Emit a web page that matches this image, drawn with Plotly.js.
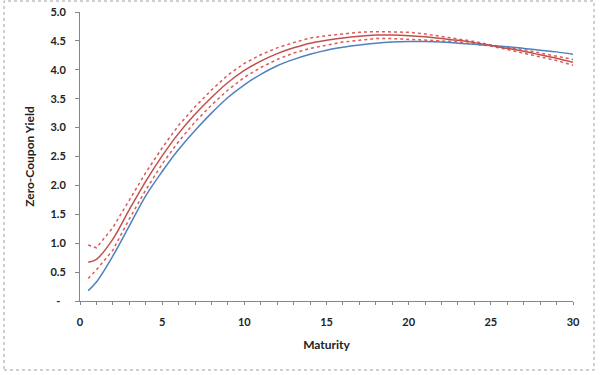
<!DOCTYPE html>
<html>
<head>
<meta charset="utf-8">
<script src="https://cdn.plot.ly/plotly-3.0.1.min.js"></script>
<style>html,body{margin:0;padding:0;background:#fff}#chart{width:600px;height:375px}</style>
</head>
<body>
<div id="chart"></div>
<script>
// Maturity (years)
const maturity = [0.5, 1, 2, 3, 4, 5, 6, 7, 8, 9, 10, 11, 12, 13, 14, 15, 16, 17, 18, 19, 20, 21, 22, 23, 24, 25, 26, 27, 28, 29, 30];
// Blue curve
const blueYield = [0.18, 0.33, 0.78, 1.30, 1.82, 2.24, 2.62, 2.95, 3.25, 3.52, 3.74, 3.92, 4.07, 4.18, 4.27, 4.34, 4.39, 4.43, 4.46, 4.48, 4.49, 4.49, 4.48, 4.46, 4.44, 4.42, 4.40, 4.37, 4.34, 4.31, 4.27];
// Red fitted curve
const redYield = [0.67, 0.72, 1.07, 1.58, 2.07, 2.51, 2.90, 3.23, 3.52, 3.78, 3.99, 4.15, 4.28, 4.38, 4.46, 4.51, 4.55, 4.58, 4.60, 4.60, 4.59, 4.57, 4.54, 4.51, 4.47, 4.42, 4.37, 4.32, 4.26, 4.20, 4.13];
// Red dashed bands
const redUpper = [0.97, 0.92, 1.27, 1.74, 2.22, 2.65, 3.04, 3.36, 3.65, 3.91, 4.11, 4.26, 4.38, 4.47, 4.55, 4.59, 4.62, 4.65, 4.66, 4.66, 4.65, 4.62, 4.58, 4.54, 4.49, 4.43, 4.39, 4.35, 4.29, 4.24, 4.18];
const redLower = [0.39, 0.54, 0.88, 1.42, 1.92, 2.37, 2.76, 3.10, 3.39, 3.65, 3.87, 4.04, 4.18, 4.29, 4.37, 4.43, 4.48, 4.51, 4.54, 4.54, 4.53, 4.52, 4.50, 4.48, 4.45, 4.41, 4.35, 4.29, 4.23, 4.16, 4.08];
// Tick labels
const yTickVals = [0, 0.5, 1, 1.5, 2, 2.5, 3, 3.5, 4, 4.5, 5];
const yTickText = ['-\u00a0\u00a0', '0.5', '1.0', '1.5', '2.0', '2.5', '3.0', '3.5', '4.0', '4.5', '5.0'];
const xTickVals = [0, 5, 10, 15, 20, 25, 30];

const fontFam = 'Lato, "Open Sans", sans-serif';
const traces = [
  {x: maturity, y: redUpper, mode: 'lines', line: {color: '#dc5a58', width: 1.5, dash: '3px,3px'}, hoverinfo: 'skip'},
  {x: maturity, y: redLower, mode: 'lines', line: {color: '#dc5a58', width: 1.5, dash: '3px,3px'}, hoverinfo: 'skip'},
  {x: maturity, y: blueYield, mode: 'lines', line: {color: '#4f81bd', width: 1.5, shape: 'spline'}},
  {x: maturity, y: redYield, mode: 'lines', line: {color: '#c0504d', width: 1.5, shape: 'spline'}}
];
const layout = {
  width: 600, height: 375,
  margin: {l: 80, r: 27, t: 12, b: 74},
  paper_bgcolor: '#fff', plot_bgcolor: '#fff',
  showlegend: false,
  font: {family: fontFam, size: 11, color: '#222'},
  xaxis: {
    range: [0, 30], tickvals: xTickVals, ticktext: xTickVals.map(String),
    showgrid: false, zeroline: false, showline: true, linecolor: '#868686', linewidth: 1,
    ticks: 'outside', ticklen: 3, tickcolor: '#868686',
    minor: {dtick: 1, ticks: 'outside', ticklen: 3, tickcolor: '#868686', showgrid: false},
    tickfont: {family: fontFam, size: 11, color: '#222', weight: 'bold'},
    ticklabelstandoff: 8,
    title: {text: 'Maturity', font: {family: fontFam, size: 12, color: '#222', weight: 'bold'}, standoff: 13}
  },
  yaxis: {
    range: [0, 5], tickvals: yTickVals, ticktext: yTickText,
    showgrid: false, zeroline: false, showline: true, linecolor: '#868686', linewidth: 1,
    ticks: 'outside', ticklen: 4, tickcolor: '#868686',
    tickfont: {family: fontFam, size: 11, color: '#222', weight: 'bold'},
    ticklabelstandoff: 7,
    title: {text: 'Zero-Coupon Yield', font: {family: fontFam, size: 12, color: '#222', weight: 'bold'}, standoff: 13}
  },
  shapes: [{
    type: 'rect', xref: 'paper', yref: 'paper',
    x0: (4 - 80) / 493, x1: (594 - 80) / 493,
    y0: (301 - 370) / 289, y1: (301 - 1) / 289,
    line: {color: '#a0a0a0', width: 1, dash: 'dot'}, fillcolor: 'rgba(0,0,0,0)', layer: 'below'
  }]
};
Plotly.newPlot('chart', traces, layout, {staticPlot: true, displayModeBar: false});
</script>
</body>
</html>
